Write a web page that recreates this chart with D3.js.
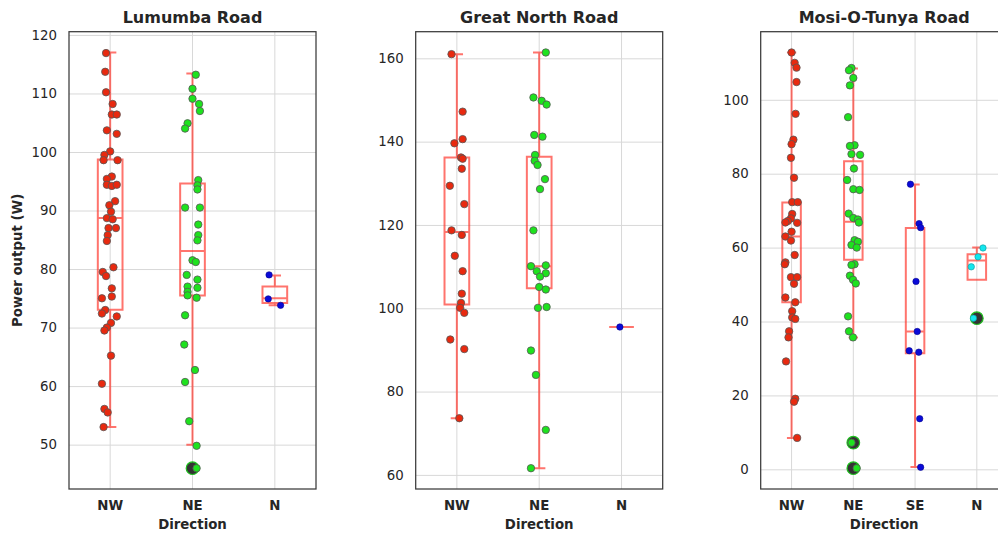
<!DOCTYPE html>
<html>
<head>
<meta charset="utf-8">
<script src="https://cdn.jsdelivr.net/npm/d3@7"></script>
<style>
  body { margin: 0; background: #fff; }
  text { font-family: "DejaVu Sans", sans-serif; fill: #262626; }
</style>
</head>
<body>
<svg width="998" height="533"></svg>
<script>
// ======================= DATA ======================= //
var roads = ["Lumumba Road", "Great North Road", "Mosi-O-Tunya Road"];

var lumumbaDirections = ["NW", "NE", "N"];
var greatNorthDirections = ["NW", "NE", "N"];
var mosiDirections = ["NW", "NE", "SE", "N"];

var lumumbaTicks = [50, 60, 70, 80, 90, 100, 110, 120];
var greatNorthTicks = [60, 80, 100, 120, 140, 160];
var mosiTicks = [0, 20, 40, 60, 80, 100];

// power output (W) per point, and its strip jitter (in category widths)
var lumumbaNW = [116.9, 113.7, 110.2, 108.2, 106.4, 106.4, 103.7, 103.1, 100.1, 99.5, 98.6, 98.6, 95.8, 95.4, 94.4, 94.2, 94.4, 91.6, 90.9, 89.8, 88.7, 88.5, 87.0, 87.0, 85.8, 84.8, 80.3, 79.5, 78.8, 76.7, 75.3, 75.0, 73.0, 72.4, 71.9, 70.8, 70.0, 69.5, 65.2, 60.4, 56.1, 55.5, 53.0];
var lumumbaNWJitter = [-0.05, -0.06, -0.05, 0.03, 0.02, 0.08, -0.04, 0.08, 0, -0.07, -0.08, 0.09, 0.02, -0.04, -0.04, 0.02, 0.08, 0.06, -0.01, 0.01, -0.04, 0.03, -0.02, 0.07, -0.03, -0.04, 0.04, -0.09, -0.05, 0.02, 0.02, -0.1, -0.06, -0.1, 0.08, 0.01, -0.04, -0.07, 0.01, -0.1, -0.07, -0.03, -0.08];
var lumumbaNE = [113.2, 110.8, 109.1, 108.2, 107.0, 104.9, 104.0, 95.2, 94.3, 93.6, 90.5, 90.5, 87.6, 85.8, 84.9, 81.5, 81.2, 79.0, 78.2, 77.0, 76.8, 76.1, 75.5, 75.1, 72.1, 67.1, 62.75, 60.7, 54.0, 49.8, 45.97];
var lumumbaNEJitter = [0.04, 0, 0, 0.08, 0.09, -0.06, -0.09, 0.07, 0.06, 0.06, -0.09, 0.09, 0.07, 0.07, 0.06, 0, 0.04, -0.07, 0.06, -0.06, 0.06, -0.06, -0.06, 0.05, -0.09, -0.1, 0.03, -0.09, -0.04, 0.05, 0.05];
var lumumbaN = [79.0, 74.9, 73.8];
var lumumbaNJitter = [-0.07, -0.08, 0.07];

var greatNorthNW = [161.0, 147.2, 140.6, 139.6, 136.2, 135.9, 133.5, 129.4, 125.0, 118.7, 117.6, 112.6, 108.9, 103.5, 101.3, 100.1, 98.9, 92.5, 90.2, 73.6];
var greatNorthNWJitter = [-0.065, 0.07, 0.07, -0.03, 0.05, 0.07, 0.06, -0.085, 0.09, -0.065, 0.06, -0.025, 0.07, 0.06, 0.05, 0.04, 0.09, -0.08, 0.09, 0.03];
var greatNorthNE = [161.4, 150.6, 149.8, 148.9, 141.6, 141.2, 136.8, 135.4, 134.4, 131.0, 128.6, 118.7, 110.1, 110.3, 108.9, 108.4, 107.6, 105.1, 104.5, 100.1, 100.3, 89.85, 84.0, 70.8, 61.6];
var greatNorthNEJitter = [0.08, -0.07, 0.03, 0.09, -0.06, 0.04, -0.05, -0.055, -0.02, 0.07, 0.01, -0.07, -0.1, 0.08, -0.03, 0.08, 0.01, 0, 0.08, -0.015, 0.09, -0.1, -0.04, 0.08, -0.1];
var greatNorthN = [95.5];
var greatNorthNJitter = [-0.02];

var mosiNW = [112.8, 110.0, 108.7, 104.8, 96.2, 89.2, 88.0, 84.3, 78.9, 72.3, 72.3, 69.1, 67.9, 67.2, 66.8, 66.7, 64.3, 63.0, 61.9, 58.0, 56.0, 55.5, 52.0, 52.0, 50.2, 46.5, 45.2, 42.8, 41.1, 40.7, 37.35, 35.7, 29.2, 19.1, 18.3, 8.5];
var mosiNWJitter = [0, 0.05, 0.08, 0.08, 0.065, 0.03, 0, -0.01, 0.04, 0.01, 0.1, 0.01, -0.01, -0.06, -0.1, 0.09, 0, -0.1, -0.01, 0.05, -0.1, -0.11, -0.01, 0.09, 0.04, -0.1, 0.06, 0.01, 0.01, 0.06, -0.04, -0.05, -0.09, 0.06, 0.04, 0.09];
var mosiNE = [108.6, 108.0, 105.9, 103.9, 95.3, 87.7, 87.5, 85.3, 85.1, 81.4, 78.3, 75.8, 75.6, 69.2, 68.0, 67.6, 66.8, 62.0, 61.6, 60.7, 60.0, 55.5, 55.3, 52.4, 51.3, 50.3, 41.4, 37.35, 35.7, 7.2, 0.3];
var mosiNEJitter = [-0.03, -0.07, 0, -0.055, -0.085, 0.02, -0.055, -0.03, 0.11, 0.01, -0.1, 0, 0.1, -0.075, 0, 0.075, 0.09, 0.02, 0.075, -0.03, 0.055, 0.02, -0.03, -0.055, -0.005, 0.04, -0.085, -0.07, -0.005, -0.03, 0.055];
var mosiSE = [77.15, 66.5, 65.4, 50.85, 37.3, 32.1, 31.7, 13.7, 0.55];
var mosiSEJitter = [-0.075, 0.065, 0.09, 0.015, 0.035, -0.095, 0.06, 0.075, 0.09];
var mosiN = [59.9, 57.5, 54.8, 40.9];
var mosiNJitter = [0.1, 0.02, -0.09, -0.055];

// box stats: [lower whisker, q1, median, q3, upper whisker]
var lumumbaBoxNW = [53.0, 73.05, 88.7, 98.7, 117.0];
var lumumbaBoxNE = [50.0, 75.5, 83.1, 94.6, 113.4];
var lumumbaBoxN = [73.8, 74.2, 75.0, 77.0, 78.9];
var greatNorthBoxNW = [73.6, 100.9, 118.3, 136.2, 161.0];
var greatNorthBoxNE = [61.6, 104.8, 110.1, 136.4, 161.4];
var greatNorthBoxN = [95.5, 95.5, 95.5, 95.5, 95.5];
var mosiBoxNW = [8.5, 45.2, 63.0, 72.2, 112.8];
var mosiBoxNE = [35.7, 56.7, 67.0, 83.4, 108.5];
var mosiBoxSE = [0.6, 31.4, 37.3, 65.3, 77.1];
var mosiBoxN = [51.3, 51.3, 56.5, 58.2, 60.0];

// outliers (fliers)
var lumumbaFliersNE = [45.97];
var mosiFliersNE = [7.2, 0.3];
var mosiFliersN = [40.9];

// ======================= LAYOUT ======================= //
var svg = d3.select("svg");
var plotTop = 31.7, plotBottom = 489, panelWidth = 247;
var panelLefts = [69, 415.7, 760.7];

var red = "#e8290f", green = "#1ee21e", blue = "#0a0ad8", cyan = "#14e6ee";

var panels = [
  { title: roads[0], dirs: lumumbaDirections, ticks: lumumbaTicks,
    values: [lumumbaNW, lumumbaNE, lumumbaN], jitter: [lumumbaNWJitter, lumumbaNEJitter, lumumbaNJitter],
    boxes: [lumumbaBoxNW, lumumbaBoxNE, lumumbaBoxN], fliers: [[], lumumbaFliersNE, []],
    colors: [red, green, blue], ylabel: true },
  { title: roads[1], dirs: greatNorthDirections, ticks: greatNorthTicks,
    values: [greatNorthNW, greatNorthNE, greatNorthN], jitter: [greatNorthNWJitter, greatNorthNEJitter, greatNorthNJitter],
    boxes: [greatNorthBoxNW, greatNorthBoxNE, greatNorthBoxN], fliers: [[], [], []],
    colors: [red, green, blue] },
  { title: roads[2], dirs: mosiDirections, ticks: mosiTicks,
    values: [mosiNW, mosiNE, mosiSE, mosiN], jitter: [mosiNWJitter, mosiNEJitter, mosiSEJitter, mosiNJitter],
    boxes: [mosiBoxNW, mosiBoxNE, mosiBoxSE, mosiBoxN], fliers: [[], mosiFliersNE, [], mosiFliersN],
    colors: [red, green, blue, cyan] }
];

panels.forEach(function(p, i) { drawPanel(p, panelLefts[i]); });

// ======================= FUNCTIONS ======================= //
function drawPanel(p, left) {
    var g = svg.append("g");

    var x = d3.scaleBand()
        .domain(p.dirs)
        .range([left, left + panelWidth])
        .padding(0);
    var bw = x.bandwidth();

    // matplotlib-like autoscale: data extent plus 5% margin
    var all = d3.merge(p.values.concat(p.boxes));
    var ext = d3.extent(all);
    var pad = (ext[1] - ext[0]) * 0.05;
    var y = d3.scaleLinear()
        .domain([ext[0] - pad, ext[1] + pad])
        .range([plotBottom, plotTop]);

    // y grid + labels
    g.append("g")
        .attr("transform", "translate(" + left + ",0)")
        .call(d3.axisLeft(y).tickValues(p.ticks).tickSize(-panelWidth).tickPadding(12).tickFormat(d3.format("d")))
        .call(function(a) {
            a.select(".domain").remove();
            a.selectAll("line").attr("stroke", "#d8d8d8").attr("stroke-width", 1);
            a.selectAll("text").style("font-size", "13.33px").style("font-family", "DejaVu Sans").attr("fill", "#333");
        });

    // x grid + category labels
    g.append("g")
        .attr("transform", "translate(0," + plotBottom + ")")
        .call(d3.axisBottom(x).tickSize(-(plotBottom - plotTop)).tickPadding(11.5))
        .call(function(a) {
            a.select(".domain").remove();
            a.selectAll("line").attr("stroke", "#d8d8d8").attr("stroke-width", 1);
            a.selectAll("text").style("font-size", "13.33px").style("font-family", "DejaVu Sans")
                .style("font-weight", "bold").attr("fill", "#333");
        });

    // boxes
    p.dirs.forEach(function(d, k) {
        var b = p.boxes[k];
        var cx = x(d) + bw / 2;
        var hw = bw * 0.15, cw = bw * 0.075;
        var path = d3.path();
        path.rect(cx - hw, y(b[3]), 2 * hw, y(b[1]) - y(b[3]));
        path.moveTo(cx - hw, y(b[2])); path.lineTo(cx + hw, y(b[2]));
        path.moveTo(cx, y(b[3])); path.lineTo(cx, y(b[4]));
        path.moveTo(cx, y(b[1])); path.lineTo(cx, y(b[0]));
        path.moveTo(cx - cw, y(b[4])); path.lineTo(cx + cw, y(b[4]));
        path.moveTo(cx - cw, y(b[0])); path.lineTo(cx + cw, y(b[0]));
        g.append("path")
            .attr("d", path.toString())
            .attr("fill", "none")
            .attr("stroke", "#ff2a1e")
            .attr("stroke-opacity", 0.65)
            .attr("stroke-width", 2);

        // fliers
        g.selectAll(null)
            .data(p.fliers[k])
          .enter().append("circle")
            .attr("cx", cx)
            .attr("cy", function(v) { return y(v); })
            .attr("r", 6.3)
            .attr("fill", "#333")
            .attr("stroke", "#1ec01e")
            .attr("stroke-width", 1.2);
    });

    // strip points
    p.dirs.forEach(function(d, k) {
        var cx = x(d) + bw / 2;
        var col = p.colors[k];
        var small = (col === blue || col === cyan);
        g.selectAll(null)
            .data(p.values[k])
          .enter().append("circle")
            .attr("cx", function(v, j) { return cx + p.jitter[k][j] * bw; })
            .attr("cy", function(v) { return y(v); })
            .attr("r", small ? 3.2 : 3.7)
            .attr("fill", col)
            .attr("stroke", small ? d3.color(col).darker(1.2) : "#555")
            .attr("stroke-width", small ? 0.6 : 0.8);
    });

    // frame
    g.append("rect")
        .attr("x", left).attr("y", plotTop)
        .attr("width", panelWidth).attr("height", plotBottom - plotTop)
        .attr("fill", "none").attr("stroke", "#3a3a3a").attr("stroke-width", 1.25);

    // title
    g.append("text")
        .attr("x", left + panelWidth / 2).attr("y", 22.5)
        .attr("text-anchor", "middle")
        .style("font-size", "16px").style("font-weight", "bold")
        .text(p.title);

    // x label
    g.append("text")
        .attr("x", left + panelWidth / 2).attr("y", 529)
        .attr("text-anchor", "middle")
        .style("font-size", "13.33px").style("font-weight", "bold")
        .text("Direction");

    if (p.ylabel) {
        g.append("text")
            .attr("transform", "translate(22," + ((plotTop + plotBottom) / 2) + ") rotate(-90)")
            .attr("text-anchor", "middle")
            .style("font-size", "13.33px").style("font-weight", "bold")
            .text("Power output (W)");
    }
}
</script>
</body>
</html>
